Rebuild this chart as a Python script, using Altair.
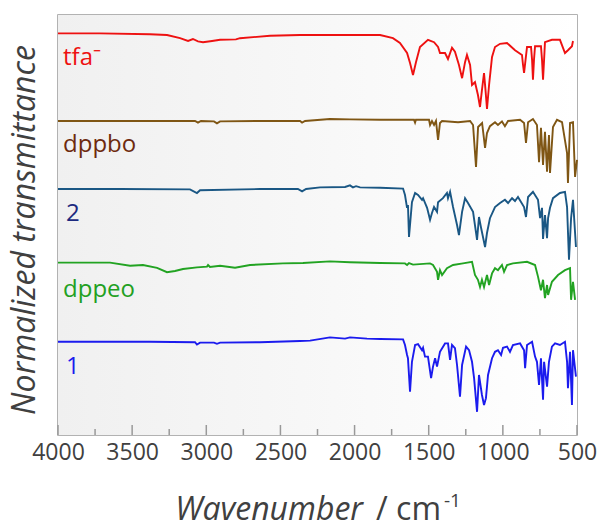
import altair as alt
import pandas as pd

# ---------------- data ----------------
tfa_wn = [4000, 3717, 3380, 3265, 3177, 3123, 3090, 3056, 3022, 2961,
          2907, 2800, 2773, 2570, 2368, 2031, 1828, 1741, 1694, 1646,
          1626, 1606, 1586, 1559, 1505, 1464, 1437, 1424, 1390, 1370,
          1343, 1323, 1296, 1275, 1255, 1242, 1221, 1208, 1188, 1168,
          1154, 1141, 1127, 1117, 1107, 1093, 1073, 1053, 1019, 972,
          918, 871, 864, 857, 847, 837, 810, 803, 797, 790,
          783, 743, 736, 729, 722, 716, 669, 615, 581, 561,
          534, 527]
tfa_t = [100.4, 100.4, 100.2, 100, 99.2, 98.5, 99, 98.4, 98.2, 98.5,
         98.8, 98.9, 99.2, 99.8, 100, 100, 100, 99.2, 98, 95.5,
         93, 90, 93.2, 97, 98.8, 98.2, 97, 95.5, 95.5, 94,
         96.8, 95.8, 92.5, 89.2, 93.2, 95, 92.5, 87.5, 88.2, 85,
         82, 86.2, 90.5, 86.2, 81.5, 87.5, 94.5, 97, 97.8, 98,
         96.2, 95, 92.5, 90.5, 93.8, 97, 97, 93.8, 88.8, 93.8,
         97.2, 97.2, 93.8, 88.8, 93.8, 98.2, 98.8, 98.8, 95.5, 96.2,
         97.2, 98.5]

dppbo_wn = [4000, 3380, 3076, 3056, 3036, 2948, 2928, 2907, 2638, 2368,
            2354, 2334, 2166, 2031, 1828, 1599, 1592, 1586, 1498, 1491,
            1478, 1464, 1451, 1437, 1424, 1410, 1302, 1221, 1201, 1181,
            1167, 1140, 1120, 1107, 1087, 1053, 1033, 1006, 986, 965,
            884, 857, 844, 830, 797, 770, 756, 743, 729, 716,
            702, 689, 682, 662, 635, 601, 567, 561, 547, 527,
            513, 500]
dppbo_t = [78.5, 78.5, 78.5, 78.1, 78.5, 78.4, 77.9, 78.4, 78.5, 78.5,
           78.1, 78.5, 79, 78.9, 78.8, 78.8, 78.1, 78.8, 78.8, 77.5,
           78.5, 77.5, 78.5, 73.8, 78, 78.5, 78.2, 78.5, 77.5, 67,
           77, 78, 71.8, 75.5, 77.2, 78.2, 77.5, 78.4, 77.2, 78.5,
           78.8, 78, 73, 78.2, 79, 77.5, 68.2, 76.8, 67.5, 75.8,
           65.8, 75, 65.5, 77, 78.8, 78.2, 70.5, 63, 78, 78.2,
           64.5, 68.8]

c2_wn = [4000, 3582, 3110, 3063, 3042, 2638, 2382, 2354, 2327, 2233,
         2064, 2031, 2011, 1990, 1963, 1828, 1673, 1660, 1646, 1640,
         1633, 1613, 1592, 1572, 1545, 1538, 1511, 1491, 1478, 1464,
         1444, 1437, 1404, 1377, 1370, 1356, 1336, 1309, 1296, 1275,
         1255, 1235, 1201, 1174, 1161, 1147, 1120, 1107, 1087, 1053,
         1019, 986, 965, 938, 918, 898, 857, 844, 830, 797,
         763, 749, 736, 729, 716, 702, 695, 682, 662, 615,
         581, 567, 554, 540, 527, 507]
c2_t = [61.5, 61.5, 61.4, 60.5, 61.2, 61.5, 61.5, 60.9, 61.5, 61.9,
        62, 62.4, 61.9, 62.2, 61.9, 61.8, 61.6, 60, 56.8, 57.5,
        49.5, 58.2, 60.5, 60, 58.8, 59.2, 56.8, 53.8, 55.5, 57,
        55.8, 58.2, 59.2, 60.5, 59.2, 60.8, 57, 52.5, 50, 55.8,
        59.2, 58, 55.8, 48.8, 54.5, 51.8, 47, 50.5, 54.2, 57,
        58, 58.8, 58, 59.2, 58.5, 59.5, 57, 54.5, 59.5, 60.8,
        58.8, 54.2, 56.8, 49, 55, 49.2, 54.2, 56.8, 59.2, 60.5,
        60.8, 57, 43.8, 54.2, 58.8, 47]

dppeo_wn = [4000, 3649, 3514, 3427, 3332, 3265, 3211, 3157, 3063, 2995,
            2988, 2975, 2907, 2806, 2705, 2483, 2348, 2166, 2031, 1828,
            1660, 1646, 1633, 1606, 1491, 1471, 1444, 1437, 1424, 1410,
            1377, 1336, 1269, 1208, 1188, 1168, 1154, 1141, 1127, 1107,
            1093, 1073, 1053, 1033, 1006, 992, 972, 932, 837, 783,
            763, 743, 729, 716, 702, 695, 669, 628, 581, 547,
            540, 527, 513]
dppeo_t = [43.1, 43.1, 42.3, 42.5, 41.8, 40.7, 41, 41.5, 41.9, 42.1,
           42.5, 42, 42.3, 41.8, 42.5, 42.9, 43, 43.4, 43.2, 43,
           42.9, 42.5, 43, 42.6, 42.9, 42.5, 40.8, 38.8, 41.2, 40,
           41.7, 42.5, 42.9, 43.3, 40, 38.8, 37, 38.8, 37, 40,
           37.5, 40.4, 41.7, 41.2, 42.5, 40.8, 42.5, 42.9, 43.3, 42.5,
           39.6, 36.2, 38.8, 34.2, 37.5, 35, 38.3, 40, 41.2, 41.7,
           33.8, 38.3, 33.8]

c1_wn = [4000, 3380, 3076, 3063, 3042, 2948, 2928, 2907, 2638, 2368,
         2300, 2166, 2064, 2031, 1916, 1828, 1673, 1660, 1646, 1640,
         1626, 1613, 1592, 1572, 1545, 1538, 1525, 1505, 1484, 1471,
         1457, 1444, 1424, 1390, 1370, 1356, 1343, 1323, 1309, 1289,
         1275, 1248, 1228, 1208, 1194, 1174, 1161, 1141, 1127, 1114,
         1100, 1073, 1053, 1033, 1012, 999, 972, 952, 932, 884,
         857, 850, 837, 803, 783, 770, 756, 743, 729, 722,
         702, 689, 669, 648, 615, 581, 567, 561, 547, 534,
         527, 507]
c1_t = [23.3, 23.3, 23.2, 22.6, 23.1, 23.1, 22.8, 23.1, 23.2, 23.5,
        23.6, 24.4, 24.1, 24.4, 24.1, 24, 23.9, 22.5, 20, 19.2,
        10.8, 18.3, 22.5, 22.7, 21.2, 21.8, 19.6, 19.6, 14.2, 17.1,
        19.2, 17.1, 20.8, 22.9, 22.9, 18.8, 22.5, 21.7, 17.5, 9.6,
        17.5, 22.1, 21.2, 18.3, 14.2, 5.8, 15, 10, 7.5, 9.2,
        15, 19.2, 20.8, 21.2, 20, 21.8, 22.1, 20.8, 22.5, 22.9,
        21.2, 16.7, 22.5, 23.3, 19.6, 18.3, 12.5, 19.2, 8.8, 18.3,
        12.1, 18.3, 22.1, 22.9, 22.5, 23.3, 18.3, 11.7, 20.8, 7.5,
        21.2, 14.6]

series = ["tfa", "dppbo", "2", "dppeo", "1"]
line_colors = ["#ee1111", "#7f5614", "#1a5784", "#22a322", "#1b1bee"]

label_text = ["tfa\u207b", "dppbo", "2", "dppeo", "1"]
label_colors = ["#ee1111", "#6e2a0e", "#1c2a80", "#22a022", "#1b1bee"]
label_wn = [3966, 3966, 3946, 3966, 3946]
label_t = [94.2, 72.5, 55.2, 36.2, 16.9]

tick_major = [4000, 3500, 3000, 2500, 2000, 1500, 1000, 500]
tick_minor = [3750, 3250, 2750, 2250, 1750, 1250, 750]

# ---------------- build tables ----------------
rows = []
for name, col, wn, t in zip(series, line_colors,
                            [tfa_wn, dppbo_wn, c2_wn, dppeo_wn, c1_wn],
                            [tfa_t, dppbo_t, c2_t, dppeo_t, c1_t]):
    for w, v in zip(wn, t):
        rows.append({"series": name, "color": col, "wn": w, "t": v})
df = pd.DataFrame(rows)

labels_df = pd.DataFrame({"text": label_text, "color": label_colors,
                          "wn": label_wn, "t": label_t})
major_df = pd.DataFrame({"wn": tick_major})
minor_df = pd.DataFrame({"wn": tick_minor})
one = pd.DataFrame({"a": [0]})

W, H = 519, 420
FONT = "Open Sans"
GREY = "#404040"
xscale = alt.Scale(domain=[500, 4000], reverse=True, nice=False, zero=False)
yscale = alt.Scale(domain=[0, 105], nice=False, zero=False)
xaxis = alt.Axis(values=tick_major, format="d", labelFont=FONT,
                 labelFontSize=23, labelColor=GREY, labelPadding=6,
                 ticks=False, tickSize=0, domain=False, grid=False,
                 labelFlush=False, labelOverlap=False, title=None)


def X():
    return alt.X("wn:Q", scale=xscale, axis=xaxis, title=None)


def Y():
    return alt.Y("t:Q", scale=yscale, axis=None)


bg = alt.Chart(one).mark_rect(
    color={"gradient": "linear", "x1": 0, "x2": 1, "y1": 0, "y2": 0,
           "stops": [{"offset": 0, "color": "#f0f0f0"},
                     {"offset": 1, "color": "#ffffff"}]}
).encode(x=alt.value(0), x2=alt.value(W), y=alt.value(0), y2=alt.value(H))

lines = alt.Chart(df).mark_line(strokeWidth=1.9).encode(
    x=X(), y=Y(),
    color=alt.Color("color:N", scale=None),
    detail="series:N",
)

major = alt.Chart(major_df).mark_rule(color="#999999", strokeWidth=1.5).encode(
    x=X(), y=alt.value(H), y2=alt.value(H - 10))
minor = alt.Chart(minor_df).mark_rule(color="#999999", strokeWidth=1.5).encode(
    x=X(), y=alt.value(H), y2=alt.value(H - 6))

labels = alt.Chart(labels_df).mark_text(
    font=FONT, fontSize=24, align="left", baseline="middle"
).encode(
    x=X(), y=Y(),
    text="text:N",
    color=alt.Color("color:N", scale=None),
)

xt1 = alt.Chart(one).mark_text(text="Wavenumber", font=FONT, fontSize=32,
                               fontStyle="italic", color=GREY, align="right",
                               baseline="alphabetic").encode(
    x=alt.value(305), y=alt.value(505))
xt2 = alt.Chart(one).mark_text(text="/ cm", font=FONT, fontSize=32, color=GREY,
                               align="left", baseline="alphabetic").encode(
    x=alt.value(318), y=alt.value(505))
xt3 = alt.Chart(one).mark_text(text="-1", font=FONT, fontSize=19, color=GREY,
                               align="left", baseline="alphabetic").encode(
    x=alt.value(386), y=alt.value(492))
yt = alt.Chart(one).mark_text(text="Normalized transmittance", font=FONT,
                              fontSize=32, fontStyle="italic", color=GREY,
                              angle=270, align="center",
                              baseline="alphabetic").encode(
    x=alt.value(-23), y=alt.value(215))

chart = alt.layer(bg, lines, major, minor, labels, xt1, xt2, xt3, yt).properties(
    width=W, height=H,
    autosize=alt.AutoSizeParams(type="none"),
    padding={"left": 58, "top": 15, "right": 23, "bottom": 94},
    background="white",
).configure_view(stroke="#999999", strokeWidth=1.5)

chart.save("out.html", embed_options={"renderer": "svg", "actions": False})
